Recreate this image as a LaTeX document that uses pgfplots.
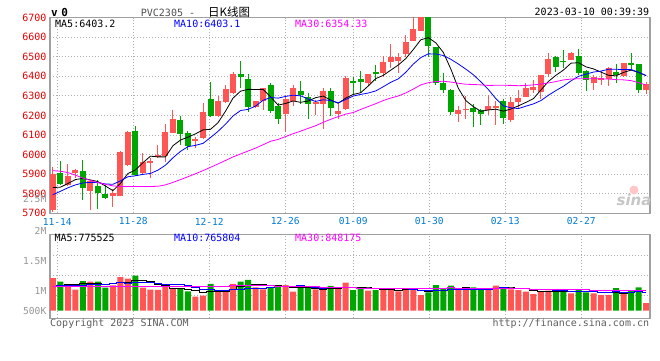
\documentclass[border=0pt]{standalone}
\usepackage{pgfplots}
\pgfplotsset{compat=1.18}
\usepackage{pgfplotstable}
\usepackage{fontspec}
\setmainfont{DejaVu Sans Mono}
\newfontfamily\mono{DejaVu Sans Mono}
\newfontfamily\cjk{Noto Sans CJK SC}
\newfontfamily\logofont{DejaVu Sans}

\definecolor{upred}{RGB}{255,85,85}
\definecolor{dngreen}{RGB}{0,166,0}
\definecolor{labred}{RGB}{230,0,0}
\definecolor{datblue}{RGB}{0,122,214}
\definecolor{bordergray}{RGB}{160,160,160}
\definecolor{gridgray}{RGB}{175,175,175}
\definecolor{volgray}{RGB}{150,150,150}
\definecolor{ma10blue}{RGB}{0,0,255}
\definecolor{ma30mag}{RGB}{255,0,255}
\definecolor{titlegray}{RGB}{80,80,80}
\definecolor{footgray}{RGB}{95,95,95}

% up (red) candles: index, open, high, low, close, volume (thousands)
\pgfplotstableread{
i o h l c v
1 5717 5935 5707 5903 1393
3 5843 5952 5840 5889 1079
4 5904 5926 5880 5921 895
6 5816 5870 5717 5863 1235
9 5790 5825 5732 5802 1079
10 5790 6016 5788 6013 1434
11 5945 6120 5943 6116 1363
13 5906 6008 5902 5962 980
14 5957 5980 5880 5969 903
15 5988 6051 5985 5996 886
16 5995 6155 5962 6116 1022
17 6111 6230 6108 6184 920
20 6070 6090 6035 6080 596
21 6083 6265 6080 6217 639
23 6195 6299 6190 6276 823
24 6268 6355 6265 6337 835
25 6312 6423 6310 6414 1142
28 6244 6276 6240 6274 997
29 6274 6340 6230 6338 912
32 6209 6303 6114 6286 1094
33 6274 6355 6247 6338 809
36 6257 6280 6201 6269 912
37 6257 6338 6129 6326 873
39 6206 6257 6182 6220 920
40 6233 6401 6230 6389 1193
43 6367 6410 6350 6409 852
45 6415 6503 6394 6471 881
46 6471 6563 6440 6497 966
47 6478 6521 6415 6500 823
48 6514 6609 6500 6574 881
49 6581 6720 6578 6640 881
50 6632 6760 6630 6720 668
55 6206 6247 6167 6230 920
56 6226 6298 6184 6235 881
59 6226 6303 6201 6250 908
60 6237 6274 6150 6250 1065
62 6179 6295 6167 6269 908
63 6267 6329 6235 6291 881
64 6295 6368 6293 6338 809
65 6329 6380 6312 6346 710
66 6318 6408 6286 6406 809
67 6412 6521 6397 6487 852
70 6483 6524 6481 6521 738
73 6368 6406 6332 6397 738
74 6380 6428 6355 6389 668
75 6384 6449 6350 6440 668
77 6403 6468 6397 6466 710
80 6329 6372 6309 6358 327
}\upc

% down (green) candles
\pgfplotstableread{
i o h l c v
2 5904 5966 5848 5850 1235
5 5915 5971 5768 5830 1264
7 5838 5872 5724 5806 1235
8 5799 5843 5775 5778 980
12 6119 6145 5895 5898 1491
18 6178 6198 6048 6106 920
19 6108 6120 6025 6043 823
22 6283 6372 6196 6198 1142
26 6414 6479 6338 6394 1235
27 6384 6411 6218 6244 1312
30 6353 6368 6213 6223 980
31 6250 6265 6155 6184 1094
34 6323 6375 6257 6303 980
35 6295 6312 6184 6257 980
38 6326 6338 6196 6237 1056
41 6375 6394 6307 6363 881
42 6384 6428 6315 6370 994
44 6420 6457 6375 6409 881
51 6720 6740 6500 6552 781
52 6548 6550 6355 6367 1094
53 6367 6418 6315 6329 966
54 6332 6336 6200 6215 1065
57 6240 6257 6141 6215 994
58 6230 6233 6150 6209 966
61 6274 6286 6155 6185 994
68 6500 6502 6423 6449 823
69 6480 6534 6440 6471 823
71 6505 6538 6406 6418 920
72 6428 6430 6326 6380 781
76 6420 6461 6363 6406 966
78 6466 6517 6432 6456 881
79 6461 6463 6312 6329 994
}\downc

% moving averages: price MA5/10/30, volume MA5/10/30 (thousands)
\pgfplotstableread{
i ma5 ma10 ma30 vma5 vma10 vma30
1 5832 5795 5918 1050 1050 1020
2 5833 5812 5915 1080 1060 1022
3 5852 5830 5908 1100 1070 1024
4 5872 5845 5895 1100 1080 1026
5 5878.6 5855 5880 1173 1090 1028
6 5870.6 5858 5868 1142 1100 1030
7 5861.8 5857 5857 1142 1110 1032
8 5839.6 5850 5848 1122 1120 1034
9 5815.8 5848 5840 1159 1140 1036
10 5852.4 5865.5 5837 1193 1183 1038
11 5903 5886.8 5837 1218 1180 1040
12 5921.4 5891.6 5837 1269 1206 1042
13 5958.2 5898.9 5837 1269 1196 1044
14 5991.6 5903.7 5837 1234 1196 1046
15 5988.2 5920.3 5838 1125 1159 1048
16 5988.2 5945.6 5845 1056 1137 1050
17 6045.4 5983.4 5858 942 1106 1050
18 6074.2 6016.2 5872 930 1100 1050
19 6089 6040.3 5887 914 1074 1050
20 6105.8 6047 5902 856 990 1050
21 6126 6057.1 5918 780 918 1050
22 6128.8 6087.1 5935 824 883 1050
23 6162.8 6118.5 5952 805 867 1052
24 6221.6 6155.3 5970 807 861 1052
25 6288.4 6197.1 5988 916 886 1054
26 6323.8 6224.9 6003 1035 908 1054
27 6333 6230.9 6018 1069 947 1056
28 6332.6 6247.7 6033 1104 954 1056
29 6332.8 6277.2 6050 1120 963 1057
30 6294.6 6291.5 6068 1087 1002 1058
31 6252.6 6288.2 6077.4 1059 1047 1048
32 6261 6297 6091.9 1015 1042 1044
33 6273.8 6303.2 6106.9 978 1041 1035
34 6266.8 6299.8 6119.6 991 1056 1038
35 6273.6 6284.1 6133.8 991 1039 1028
36 6290.6 6271.6 6147.4 955 1007 1017
37 6298.6 6279.8 6164.7 911 963 1005
38 6278.4 6276.1 6180 960 969 1008
39 6261.8 6264.3 6193.9 948 970 1002
40 6288.2 6280.9 6206.5 991 991 994
41 6307 6298.8 6214.7 985 970 978
42 6315.8 6307.2 6230.4 1009 960 962
43 6350.2 6314.3 6245.3 968 964 958
44 6388 6324.9 6260 960 954 957
45 6404.4 6346.3 6275.8 898 944 957
46 6431.2 6369.1 6288.5 915 950 955
47 6457.2 6386.5 6299.1 881 945 952
48 6490.2 6420.2 6314.7 886 927 950
49 6536.4 6462.2 6334.6 886 923 952
50 6586.2 6495.3 6355.9 844 871 955
51 6597.2 6514.2 6367.1 807 861 959
52 6570.6 6513.9 6372.7 861 871 958
53 6521.6 6505.9 6374.5 878 882 962
54 6436.6 6486.5 6370.4 915 901 970
55 6338.6 6462.4 6364.3 965 905 963
56 6275.2 6436.2 6359 985 896 951
57 6244.8 6407.7 6358 965 913 940
58 6220.8 6371.2 6355.8 965 922 939
59 6227.8 6332.2 6352.9 934 924 939
60 6231.8 6285.2 6353.8 963 964 942
61 6221.8 6248.5 6353.8 985 985 939
62 6232.6 6238.7 6353.3 968 967 932
63 6249 6234.9 6351.7 951 958 935
64 6266.6 6247.2 6352.9 931 933 929
65 6285.8 6258.8 6355.8 860 912 920
66 6330 6275.9 6360.4 823 904 917
67 6373.6 6303.1 6365.8 812 890 916
68 6405.2 6327.1 6372.8 801 876 908
69 6431.8 6349.2 6381.2 803 867 905
70 6466.8 6376.3 6385.6 809 835 890
71 6469.2 6399.6 6387.4 831 827 891
72 6447.8 6410.7 6387.8 817 815 884
73 6437.4 6421.3 6387.4 800 800 880
74 6421 6426.4 6386.7 769 786 873
75 6404.8 6435.8 6385.7 755 782 866
76 6402.4 6435.8 6382.6 764 798 866
77 6419.6 6433.7 6381.5 750 784 862
78 6431.4 6434.4 6377.6 779 789 862
79 6419.4 6420.2 6367.2 844 806 866
80 6403 6403.9 6355.1 776 765 855
}\matab

\pgfplotsset{
  kbase/.style={
    scale only axis, width=600pt, anchor=south west,
    xmin=0.627, xmax=80.52,
    axis line style={draw=bordergray, line width=1.2pt},
    major tick length=0pt,
    xtick={1.599,11.72,21.84,31.96,41.01,51.13,61.25,71.37},
    xmajorgrids, ymajorgrids,
    grid style={draw=gridgray, line width=0.9pt, dash pattern=on 1pt off 2pt},
    tick label style={font=\mono\fontsize{10}{10}\selectfont},
  },
}

\begin{document}
\begin{tikzpicture}[x=1pt,y=1pt]
\useasboundingbox (0,0) rectangle (660,360);
\fill[white] (0,0) rectangle (660,360);

% ---------------- price panel ----------------
\begin{axis}[kbase, at={(50pt,146.7pt)}, height=195.8pt,
  ymin=5700, ymax=6700,
  ytick={5700,5800,5900,6000,6100,6200,6300,6400,6500,6600,6700},
  yticklabels={5700,5800,5900,6000,6100,6200,6300,6400,6500,6600,6700},
  yticklabel style={text=labred},
  xticklabels={11-14,11-28,12-12,12-26,01-09,01-30,02-13,02-27},
  xticklabel style={text=datblue, anchor=center, yshift=-8.2pt,
    font=\mono\fontsize{9.6}{10}\selectfont},
]
% wicks
\addplot[draw=none, forget plot, error bars/.cd, y dir=both, y explicit, error mark=none,
  error bar style={draw=upred, line width=1pt}]
  table[x=i, y=c, y error plus expr=\thisrow{h}-\thisrow{c},
        y error minus expr=\thisrow{c}-\thisrow{l}] {\upc};
\addplot[draw=none, forget plot, error bars/.cd, y dir=both, y explicit, error mark=none,
  error bar style={draw=dngreen, line width=1pt}]
  table[x=i, y=c, y error plus expr=\thisrow{h}-\thisrow{c},
        y error minus expr=\thisrow{c}-\thisrow{l}] {\downc};
% bodies
\addplot[draw=none, forget plot, error bars/.cd, y dir=plus, y explicit, error mark=none,
  error bar style={draw=upred, line width=6pt}]
  table[x=i, y=o, y error plus expr=\thisrow{c}-\thisrow{o}, y error minus expr=0] {\upc};
\addplot[draw=none, forget plot, error bars/.cd, y dir=plus, y explicit, error mark=none,
  error bar style={draw=dngreen, line width=6pt}]
  table[x=i, y=c, y error plus expr=\thisrow{o}-\thisrow{c}, y error minus expr=0] {\downc};
% moving averages
\addplot[black, line width=0.8pt, mark=none] table[x=i, y=ma5] {\matab};
\addplot[ma10blue, line width=0.8pt, mark=none] table[x=i, y=ma10] {\matab};
\addplot[ma30mag, line width=0.8pt, mark=none] table[x=i, y=ma30] {\matab};
\end{axis}

% ---------------- volume panel ----------------
\begin{axis}[kbase, at={(50pt,41.7pt)}, height=84pt,
  ymin=-324, ymax=3255,
  ytick={656,1508,2373}, yticklabels={}, xticklabels={},
]
\addplot[ybar, bar width=6pt, bar shift=0pt, fill=upred, draw=none] table[x=i, y=v] {\upc};
\addplot[ybar, bar width=6pt, bar shift=0pt, fill=dngreen, draw=none] table[x=i, y=v] {\downc};
\addplot[const plot mark mid, black, line width=1pt, mark=none] table[x=i, y=vma5] {\matab};
\addplot[const plot mark mid, ma10blue, line width=1pt, mark=none] table[x=i, y=vma10] {\matab};
\addplot[const plot mark mid, ma30mag, line width=1pt, mark=none] table[x=i, y=vma30] {\matab};
\end{axis}

% ---------------- texts ----------------
\node[anchor=west, inner sep=0] at (51,348) {\mono\bfseries\fontsize{11}{11}\selectfont v\hspace{3.5pt}0};
\node[anchor=west, inner sep=0] at (140.7,348.3) {\mono\fontsize{10}{10}\selectfont\textcolor{titlegray}{PVC2305 -}\hspace{13pt}{\cjk\fontsize{11.5}{12}\selectfont 日K线图}};
\node[anchor=east, inner sep=0] at (649.3,347.7) {\mono\fontsize{10}{10}\selectfont 2023-03-10 00:39:39};

\node[anchor=west, inner sep=0, text=black] at (55,336) {\mono\fontsize{10}{10}\selectfont MA5:6403.2};
\node[anchor=west, inner sep=0, text=ma10blue] at (174,336) {\mono\fontsize{10}{10}\selectfont MA10:6403.1};
\node[anchor=west, inner sep=0, text=ma30mag] at (295,336) {\mono\fontsize{10}{10}\selectfont MA30:6354.33};

\node[anchor=west, inner sep=0, text=black] at (54.3,121.7) {\mono\fontsize{10}{10}\selectfont MA5:775525};
\node[anchor=west, inner sep=0, text=ma10blue] at (174,121.7) {\mono\fontsize{10}{10}\selectfont MA10:765804};
\node[anchor=west, inner sep=0, text=ma30mag] at (295,121.7) {\mono\fontsize{10}{10}\selectfont MA30:848175};

\begin{scope}[every node/.style={anchor=east, inner sep=0, text=volgray, font=\mono\fontsize{9.6}{10}\selectfont}]
\node at (46.5,160.7) {2.5M};
\node at (46.5,129) {2M};
\node at (46.5,99.3) {1.5M};
\node at (46.5,69.3) {1M};
\node at (46.5,49.3) {500K};
\end{scope}

\node[anchor=west, inner sep=0, text=footgray] at (50,36.7) {\mono\fontsize{10}{10}\selectfont Copyright 2023 SINA.COM};
\node[anchor=east, inner sep=0, text=footgray] at (649.3,36.7) {\mono\fontsize{10}{10}\selectfont http://finance.sina.com.cn};

% sina watermark
\fill[red!22] (634,170) circle (4.5pt);
\node[anchor=center, inner sep=0, text=gray!45] at (634,160) {\logofont\bfseries\itshape\fontsize{15}{15}\selectfont sina};
\end{tikzpicture}
\end{document}
